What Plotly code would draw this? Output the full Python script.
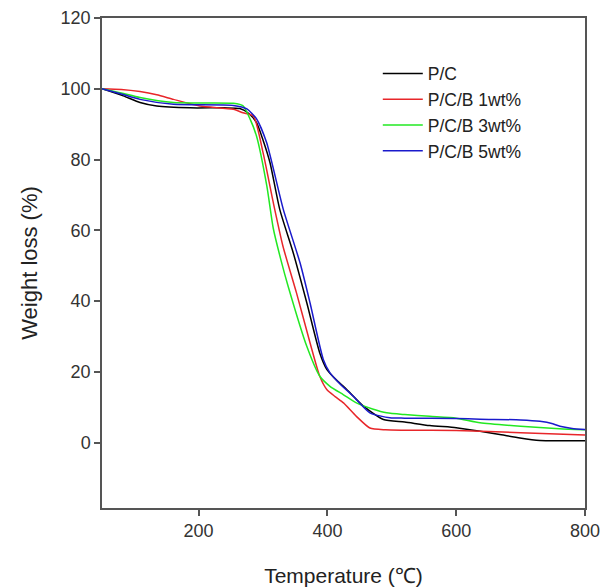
import plotly.graph_objects as go

# P/C
pc_x = [50, 83, 109, 135, 187, 240, 264, 278, 290, 300, 311, 326, 347, 368, 388, 399, 415, 430, 456, 487, 520, 559, 600, 637, 670, 699, 730, 760, 800]
pc_y = [100, 98, 96.1, 95.1, 94.6, 94.6, 94.4, 93, 90.4, 85.5, 79, 65.9, 53.6, 39.5, 25.4, 20.7, 17.5, 15, 10.3, 6.5, 5.8, 4.8, 4.2, 3.2, 2.2, 1.3, 0.6, 0.5, 0.5]

# P/C/B 1wt%
b1_x = [50, 80, 109, 135, 161, 202, 254, 269, 285, 300, 316, 331, 352, 373, 388, 399, 412, 425, 445, 466, 490, 520, 600, 700, 800]
b1_y = [100, 99.8, 99.2, 98.3, 97, 95.1, 94.2, 93.2, 92.3, 82, 67.8, 55.5, 42.3, 28.2, 18.8, 15, 13, 11.2, 7.4, 4.1, 3.6, 3.5, 3.4, 2.8, 2.1]

# P/C/B 3wt%
b3_x = [50, 80, 109, 161, 200, 254, 269, 280, 290, 306, 316, 328, 339, 368, 388, 404, 425, 445, 470, 492, 520, 559, 600, 637, 700, 760, 800]
b3_y = [100, 98.8, 97.5, 96.1, 96, 95.9, 95.2, 91.4, 86.6, 72.5, 60.5, 51.5, 44.2, 27.2, 18.8, 15.9, 13.5, 11.2, 9.5, 8.4, 7.9, 7.4, 6.9, 5.6, 4.6, 3.9, 3.6]

# P/C/B 5wt%
b5_x = [50, 80, 109, 161, 254, 275, 290, 305.6, 331.5, 357.5, 373, 393.6, 404, 420, 440, 466, 497, 520, 600, 637, 700, 730, 750, 761, 780, 800]
b5_y = [100, 98.5, 97, 95.6, 95.3, 94.3, 91.5, 84.8, 65.9, 50.8, 39.5, 23.5, 19.7, 16.5, 13.1, 8.4, 7.0, 6.9, 6.8, 6.6, 6.4, 6.0, 5.3, 4.6, 4.0, 3.7]

names = ["P/C", "P/C/B 1wt%", "P/C/B 3wt%", "P/C/B 5wt%"]
colors = ["#000000", "#e8262a", "#22e822", "#1a1acc"]
xs = [pc_x, b1_x, b3_x, b5_x]
ys = [pc_y, b1_y, b3_y, b5_y]

x_ticks = [200, 400, 600, 800]
y_ticks = [0, 20, 40, 60, 80, 100, 120]

fig = go.Figure()
for n, c, x, y in zip(names, colors, xs, ys):
    fig.add_trace(go.Scatter(x=x, y=y, mode="lines", name=n,
                             line=dict(color=c, width=1.5, shape="spline", smoothing=0.6)))

axis_common = dict(showline=True, linecolor="#555555", linewidth=1.5, mirror=True,
                   ticks="outside", ticklen=6, tickcolor="#555555", tickwidth=1.5,
                   showgrid=False, zeroline=False, automargin=False,
                   tickfont=dict(family="Liberation Sans, Arial", size=18, color="#333333"))

fig.update_layout(
    width=605, height=580,
    margin=dict(l=94, r=28, t=10, b=80),
    paper_bgcolor="white", plot_bgcolor="white",
    font=dict(family="Liberation Sans, Arial", color="#333333"),
    xaxis=dict(range=[50, 800], tickvals=x_ticks,
               title=dict(text="Temperature (℃)", font=dict(size=21, color="#222222"), standoff=28),
               **axis_common),
    yaxis=dict(range=[-18.5, 120], tickvals=y_ticks,
               title=dict(text="Weight loss (%)", font=dict(size=22, color="#222222"), standoff=17),
               **axis_common),
    legend=dict(x=0.571, y=0.923, xanchor="left", yanchor="top",
                bgcolor="rgba(0,0,0,0)", font=dict(size=17.5, color="#222222"),
                tracegroupgap=0, itemwidth=40),
    showlegend=True,
)

fig.write_html("out.html")
